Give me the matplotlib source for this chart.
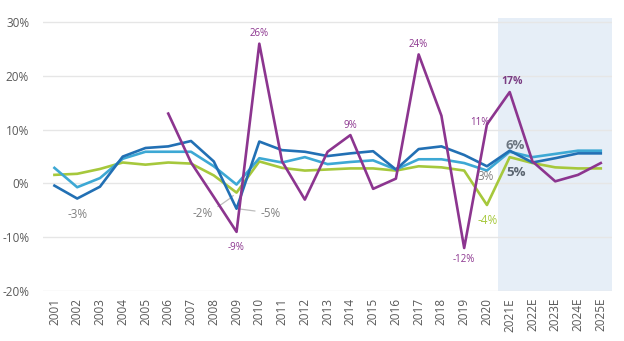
import numpy as np
import matplotlib.pyplot as plt

plt.rcParams['font.family'] = ['Open Sans', 'DejaVu Sans']

years = ['2001', '2002', '2003', '2004', '2005', '2006', '2007', '2008', '2009', '2010',
         '2011', '2012', '2013', '2014', '2015', '2016', '2017', '2018', '2019', '2020',
         '2021E', '2022E', '2023E', '2024E', '2025E']

# growth rates in %
dark_blue = [-0.4, -2.8, -0.6, 5.0, 6.6, 6.9, 7.9, 4.1, -4.7, 7.8,
             6.2, 5.9, 5.1, 5.6, 6.0, 2.6, 6.4, 6.9, 5.3, 3.2,
             6.1, 3.9, 4.7, 5.6, 5.6]
light_blue = [2.9, -0.7, 1.0, 4.6, 5.9, 5.9, 5.9, 3.2, -0.2, 4.7,
              3.9, 4.9, 3.6, 4.0, 4.3, 2.6, 4.5, 4.5, 3.8, 2.4,
              5.9, 4.9, 5.5, 6.1, 6.1]
green = [1.6, 1.8, 2.7, 3.9, 3.5, 3.9, 3.7, 1.5, -1.7, 4.1,
         2.9, 2.4, 2.6, 2.8, 2.8, 2.4, 3.2, 3.0, 2.4, -4.0,
         4.9, 3.8, 3.0, 2.8, 2.8]
purple = [np.nan] * 5 + [13.0, 3.9, -2.5, -9.0, 26.0,
                         4.1, -3.0, 5.9, 9.0, -1.0, 0.9, 24.0, 12.6, -12.0, 11.0,
                         17.0, 4.1, 0.4, 1.6, 3.8]

c_dark = '#2270b4'
c_light = '#3da8d4'
c_green = '#a6c83c'
c_purple = '#8c358f'
c_grey = '#808080'

x = np.arange(len(years))

fig = plt.figure(figsize=(6.24, 3.41), dpi=100)
ax = fig.add_axes([0.069, 0.1466, 0.912, 0.7994])

ax.axvspan(19.5, 24.5, color='#e6eef7', zorder=0, lw=0)

ax.plot(x, green, color=c_green, lw=1.9, zorder=3)
ax.plot(x, light_blue, color=c_light, lw=1.9, zorder=4)
ax.plot(x, dark_blue, color=c_dark, lw=1.9, zorder=5)
ax.plot(x, purple, color=c_purple, lw=1.9, zorder=6)

ax.set_xlim(-0.5, 24.5)
ax.set_ylim(-20, 30.7)
ax.set_yticks([-20, -10, 0, 10, 20, 30])
ax.set_yticklabels([f'{v}%' for v in [-20, -10, 0, 10, 20, 30]])
ax.set_xticks(x)
ax.set_xticklabels(years, rotation=90)
ax.tick_params(length=0, labelsize=8.5, labelcolor='#595959')
ax.tick_params(axis='y', pad=10)
ax.tick_params(axis='x', pad=5)
ax.grid(axis='y', color='#e6e6e6', lw=1)
ax.set_axisbelow(True)
for s in ax.spines.values():
    s.set_visible(False)

# purple value labels
pkw = dict(color=c_purple, fontsize=7, ha='center', zorder=8)
ax.text(9, 26.8, '26%', va='bottom', **pkw)
ax.text(8, -10.8, '-9%', va='top', **pkw)
ax.text(13, 9.8, '9%', va='bottom', **pkw)
ax.text(16, 24.8, '24%', va='bottom', **pkw)
ax.text(18, -13.2, '-12%', va='top', **pkw)
ax.text(19.1, 11.3, '11%', va='center', ha='right', color=c_purple, fontsize=7, zorder=8)
ax.text(20.1, 18.0, '17%', va='bottom', ha='center', color='#7a3c82', fontsize=7.5,
        fontweight='bold', zorder=8)

# grey labels with leader lines
ax.text(1, -5.8, '-3%', color=c_grey, fontsize=8.5, ha='center', va='center')
ax.annotate('-2%', xy=(7.95, -1.9), xytext=(6.5, -5.6), color=c_grey, fontsize=8.5,
            ha='center', va='center',
            arrowprops=dict(arrowstyle='-', color='#bdbdbd', lw=0.9, shrinkA=2, shrinkB=2,
                            connectionstyle='arc3,rad=0.1'))
ax.annotate('-5%', xy=(8.05, -4.7), xytext=(9.5, -5.5), color=c_grey, fontsize=8.5,
            ha='center', va='center',
            arrowprops=dict(arrowstyle='-', color='#bdbdbd', lw=0.9, shrinkA=2, shrinkB=2))
ax.text(18.95, 0.1, '3%', color=c_grey, fontsize=8.5, ha='center', va='bottom', zorder=8)
ax.text(19.05, -6.8, '-4%', color=c_green, fontsize=8.5, ha='center', va='center', zorder=8)
ax.text(20.25, 7.1, '6%', color='#6b7580', fontsize=9.5, fontweight='bold',
        ha='center', va='center', zorder=8)
ax.text(20.3, 2.0, '5%', color='#5b6570', fontsize=9.5, fontweight='bold',
        ha='center', va='center', zorder=8)

fig.savefig('out.png', dpi=100)
